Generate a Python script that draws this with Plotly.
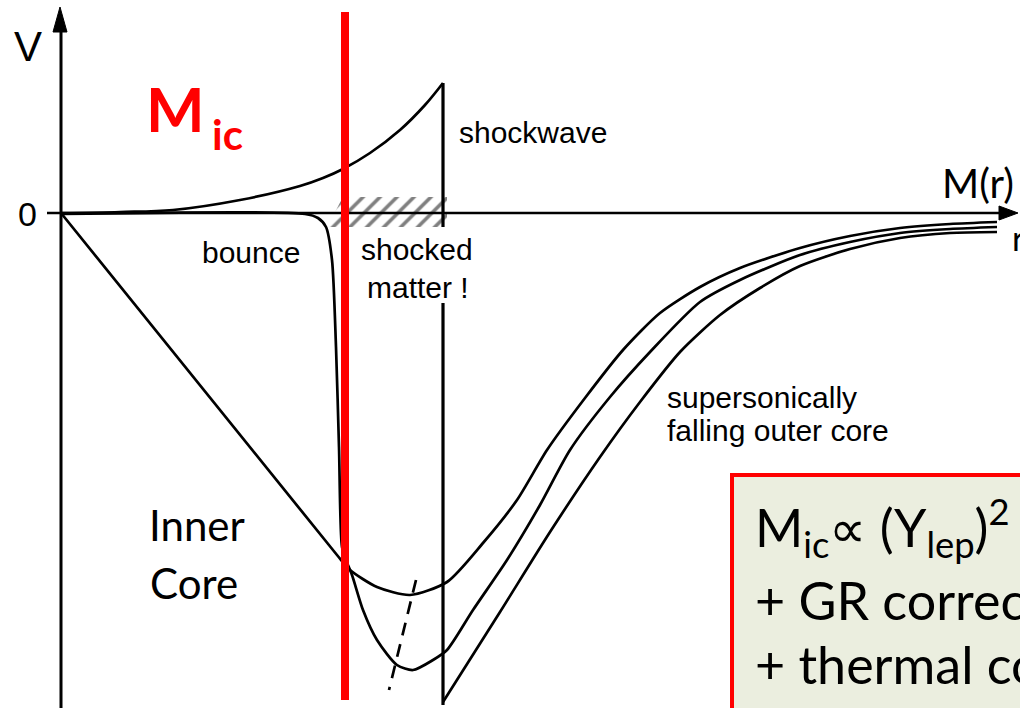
import plotly.graph_objects as go

# Velocity profile of a collapsing stellar core around bounce.
# Mass coordinate M (arbitrary units) vs. velocity v (arbitrary units, 0 = at rest).

# Shock-heated outflow just after bounce (positive velocities)
shock_M = [0, 59, 112, 179, 239, 262, 282, 309, 339, 364, 382]
shock_v = [0, 1, 3, 13, 27, 35, 44, 60, 83, 108, 130]

# Pre-bounce homologous infall (straight inner part) joining the outer infall
infall_M = [0, 276, 289, 316, 349, 386, 422, 456, 486, 524, 562, 599, 639, 679, 739, 789, 839, 889, 936]
infall_v = [0, -342, -357, -374, -382, -369, -330, -287, -237, -185, -137, -100, -74, -55, -35, -23, -15, -11, -9]

# Profile at bounce: inner core at rest, sharp drop at the edge of the inner core
bounce_M = [0, 244, 257, 265, 271, 275, 278, 281, 285, 291, 302, 316, 336, 352, 372, 386, 412, 446,
            479, 509, 549, 589, 639, 679, 739, 789, 839, 889, 936]
bounce_v = [-1, -1, -5, -14, -47, -134, -234, -334, -347, -362, -397, -427, -452, -457, -447, -437, -397, -347,
            -292, -237, -184, -139, -89, -67, -42, -29, -20, -16, -14]

# Matter ahead of the shock front
outer_M = [382, 439, 489, 539, 579, 619, 659, 699, 739, 789, 839, 889, 936]
outer_v = [-489, -399, -319, -244, -189, -139, -102, -75, -53, -36, -25, -20, -19]

# Locus of the velocity minima
minima_M = [355, 328]
minima_v = [-367, -477]

# Shock front position and inner-core mass
shock_front_M = 382
shock_front_top = 130
inner_core_M = 284

# Region of shocked matter
shocked_M = [282, 386, 386, 266, 282]
shocked_v = [16, 16, -14, -14, 16]

X_RANGE = [-61, 959]
Y_RANGE = [-495, 213]

BLACK = "#000000"
RED = "#ff0000"
HELV = "Liberation Sans, Arial, sans-serif"
CAL = "Lato, Open Sans, sans-serif"

fig = go.Figure()

# shocked-matter hatching
fig.add_trace(go.Scatter(
    x=shocked_M, y=shocked_v, mode="lines", fill="toself",
    line=dict(width=0, color="rgba(0,0,0,0)"),
    fillcolor="rgba(0,0,0,0)",
    fillpattern=dict(shape="/", fgcolor=BLACK, bgcolor="rgba(0,0,0,0)", size=12, solidity=0.3),
    hoverinfo="skip", showlegend=False,
))

curve_line = dict(color=BLACK, width=2.7, shape="spline", smoothing=0.7)
for xs, ys in [(infall_M, infall_v), (bounce_M, bounce_v), (outer_M, outer_v)]:
    fig.add_trace(go.Scatter(x=xs, y=ys, mode="lines", line=curve_line,
                             hoverinfo="skip", showlegend=False))
fig.add_trace(go.Scatter(x=shock_M, y=shock_v, mode="lines",
                         line=dict(color=BLACK, width=2.7, shape="spline", smoothing=1.0),
                         hoverinfo="skip", showlegend=False))

fig.add_trace(go.Scatter(x=minima_M, y=minima_v, mode="lines",
                         line=dict(color=BLACK, width=2.7, dash="13px,9px"),
                         hoverinfo="skip", showlegend=False))

# shock front (interrupted by the label)
fig.add_trace(go.Scatter(
    x=[shock_front_M, shock_front_M, None, shock_front_M, shock_front_M],
    y=[shock_front_top, -14, None, -90, outer_v[0] - 3],
    mode="lines", line=dict(color=BLACK, width=3.2),
    hoverinfo="skip", showlegend=False,
))

# inner-core boundary marker
fig.add_trace(go.Scatter(
    x=[inner_core_M, inner_core_M], y=[201, -487], mode="lines",
    line=dict(color=RED, width=8), hoverinfo="skip", showlegend=False,
))

shapes = [
    # axes
    dict(type="line", xref="x", yref="y", x0=-14, x1=944, y0=0, y1=0,
         line=dict(color=BLACK, width=2.6), layer="below"),
    dict(type="line", xref="x", yref="y", x0=0, x1=0, y0=-500, y1=185,
         line=dict(color=BLACK, width=3), layer="below"),
    dict(type="path", xref="x", yref="y", path="M -8,181 L -1,206 L 6,181 Z",
         fillcolor=BLACK, line=dict(color=BLACK, width=1)),
    dict(type="path", xref="x", yref="y", path="M 938,7 L 957,0 L 938,-7 Z",
         fillcolor=BLACK, line=dict(color=BLACK, width=1)),
    # formula box
    dict(type="rect", xref="x", yref="y", x0=671, x1=1000, y0=-262, y1=-540,
         fillcolor="#ebeedf", line=dict(color=RED, width=4), layer="below"),
]


def label(text, x, y, size, family=HELV, color=BLACK, xanchor="center", yanchor="middle", weight="normal"):
    return dict(text=text, x=x, y=y, xref="x", yref="y", showarrow=False,
                xanchor=xanchor, yanchor=yanchor,
                font=dict(family=family, size=size, color=color, weight=weight))


annotations = [
    label("V", -33, 167, 42),
    label("0", -34, -1, 34),
    label("M(r)", 917, 30, 40, family=CAL),
    label("r", 949, -24, 34, family=CAL, xanchor="left"),
    label("M", 114, 105, 62, family=CAL, color=RED, weight="bold"),
    label("ic", 149, 79, 42, family=CAL, color=RED, weight="bold", xanchor="left"),
    label("bounce", 190, -39, 30),
    label("shockwave", 472, 81, 30),
    label("shocked", 356, -36, 30),
    label("matter !", 357, -74, 30),
    label("supersonically", 604, -184, 30, xanchor="left"),
    label("falling outer core", 604, -217, 30, xanchor="left"),
    label("Inner", 136, -312, 42, family=CAL),
    label("Core", 133, -370, 42, family=CAL),
    label("M<sub>ic</sub>\u221d (Y<sub>lep</sub>)<sup>2</sup>", 692, -314, 52, family=CAL, xanchor="left"),
    label("+ GR corrections", 692, -387, 52, family=CAL, xanchor="left"),
    label("+ thermal corrections", 692, -451, 52, family=CAL, xanchor="left"),
]

fig.update_layout(
    width=1020, height=708,
    margin=dict(l=0, r=0, t=0, b=0),
    paper_bgcolor="white", plot_bgcolor="white",
    xaxis=dict(range=X_RANGE, visible=False, fixedrange=True),
    yaxis=dict(range=Y_RANGE, visible=False, fixedrange=True),
    shapes=shapes, annotations=annotations,
    showlegend=False,
)

fig.write_html("out.html")
